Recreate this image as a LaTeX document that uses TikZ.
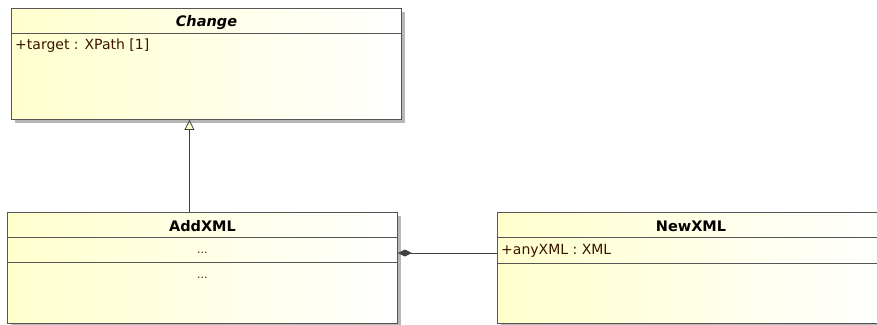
\documentclass[tikz,border=0pt]{standalone}
\usepackage{fontspec}
\setmainfont{DejaVu Sans}
\usetikzlibrary{arrows.meta,shadows}
\definecolor{clsfill}{RGB}{255,255,205}
\definecolor{clsline}{RGB}{85,85,85}
\definecolor{attrtext}{RGB}{60,20,0}
\tikzset{
  cls/.style={draw=clsline, line width=0.9pt, rectangle, anchor=north west, inner sep=0pt,
    left color=clsfill, right color=white,
    drop shadow={shadow xshift=4pt, shadow yshift=-4pt, fill=black!40, opacity=0.7}},
  sep/.style={draw=clsline, line width=0.9pt},
  title/.style={font=\bfseries\fontsize{14.5}{16}\selectfont, inner sep=0pt, anchor=base},
  attr/.style={font=\fontsize{14}{16}\selectfont, text=attrtext, inner sep=0pt, anchor=base west},
  dots/.style={font=\fontsize{11}{13}\selectfont, text=attrtext, inner sep=0pt, anchor=base},
  conn/.style={draw=black!75, line width=0.8pt}
}
\begin{document}
\begin{tikzpicture}[x=1pt,y=-1pt]
\useasboundingbox (0,0) rectangle (877,324);
% Change
\node[cls, minimum width=390pt, minimum height=111pt] (change) at (11,8) {};
\draw[sep] ([yshift=-25pt]change.north west) -- ([yshift=-25pt]change.north east);
\node[title, font=\bfseries\itshape\fontsize{14.5}{16}\selectfont] (changeT) at ([yshift=-19pt]change.north) {Change};
\node[attr] (changeA) at ([xshift=4pt,yshift=-41pt]change.north west) {+target : XPath [1]};
% AddXML
\node[cls, minimum width=390pt, minimum height=111pt] (addxml) at (7,212) {};
\draw[sep] ([yshift=-25pt]addxml.north west) -- ([yshift=-25pt]addxml.north east);
\draw[sep] ([yshift=-50pt]addxml.north west) -- ([yshift=-50pt]addxml.north east);
\node[title] (addT) at ([yshift=-19pt]addxml.north) {AddXML};
\node[dots] (addA) at ([yshift=-41pt]addxml.north) {...};
\node[dots] (addO) at ([yshift=-66pt]addxml.north) {...};
% NewXML
\node[cls, minimum width=386pt, minimum height=111pt] (newxml) at (497,212) {};
\draw[sep] ([yshift=-25pt]newxml.north west) -- ([yshift=-25pt]newxml.north east);
\draw[sep] ([yshift=-51pt]newxml.north west) -- ([yshift=-51pt]newxml.north east);
\node[title] (newT) at ([xshift=194pt,yshift=-19pt]newxml.north west) {NewXML};
\node[attr] (newA) at ([xshift=4pt,yshift=-42pt]newxml.north west) {+anyXML : XML};
% generalization
\draw[conn, -{Triangle[open,length=10pt,width=10pt,fill=clsfill]}]
  ([xshift=-13pt]addxml.north) -- ([xshift=-13pt]addxml.north |- change.south);
% composition
\draw[conn, {Diamond[length=14pt,width=7pt,fill=black!75]}-]
  ([yshift=-41pt]addxml.north east) -- ([yshift=-41pt]newxml.north west);
\end{tikzpicture}
\end{document}
